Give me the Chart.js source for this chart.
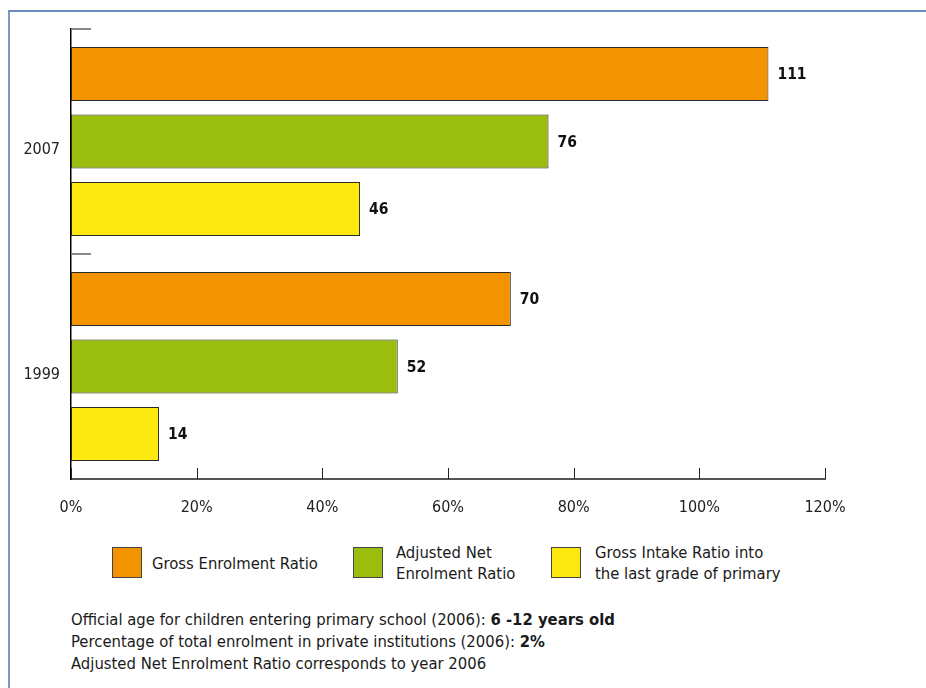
<!DOCTYPE html>
<html>
<head>
<meta charset="utf-8">
<script src="https://cdn.jsdelivr.net/npm/chart.js@4.4.0/dist/chart.umd.min.js"></script>
<style>
  body { margin: 0; background: #fff; width: 926px; height: 688px; overflow: hidden; position: relative;
         font-family: "DejaVu Sans Condensed", "Liberation Sans Narrow", sans-serif; color: #1a1a1a; }
  #frame { position: absolute; left: 8px; top: 10px; width: 940px; height: 700px;
           border-left: 2px solid #7b98c4; border-top: 2px solid #6a8bbd; }
  #wrap { position: absolute; left: 0; top: 0; }
  .box { position: absolute; width: 30px; height: 31px; border: 1px solid #444; box-sizing: border-box; }
  .lg { position: absolute; font-size: 16.5px; line-height: 21px; }
  #notes { position: absolute; left: 71px; top: 609px; font-size: 16.5px; line-height: 22px; }
  #notes b { font-weight: bold; }
</style>
</head>
<body>
<div id="frame"></div>
<div id="wrap"><canvas id="grafico" width="926" height="540"></canvas></div>

<div class="box" style="left:112px; top:547px; background:#f39300;"></div>
<div class="lg" style="left:152px; top:553px;">Gross Enrolment Ratio</div>
<div class="box" style="left:353px; top:547px; background:#9bbd0e;"></div>
<div class="lg" style="left:396px; top:542px;">Adjusted Net<br>Enrolment Ratio</div>
<div class="box" style="left:551px; top:547px; background:#fde910;"></div>
<div class="lg" style="left:595px; top:542px;">Gross Intake Ratio into<br>the last grade of primary</div>

<div id="notes">
  Official age for children entering primary school (2006): <b>6 -12 years old</b><br>
  Percentage of total enrolment in private institutions (2006): <b>2%</b><br>
  Adjusted Net Enrolment Ratio corresponds to year 2006
</div>

<script>
const anos = ["2007", "1999"];
const brutaMatricula = [111, 70];
const liquidaAjustada = [76, 52];
const ingressoUltimo = [46, 14];
const xTicks = [0, 20, 40, 60, 80, 100, 120];

const cores = ["#f39300", "#9bbd0e", "#fde910"];
const nomes = ["Gross Enrolment Ratio", "Adjusted Net Enrolment Ratio", "Gross Intake Ratio into the last grade of primary"];
const fonte = "'DejaVu Sans Condensed', 'Liberation Sans Narrow', sans-serif";

// ticks internos, separadores e valores
const decor = {
  id: "decor",
  afterDatasetsDraw(chart) {
    const { ctx, chartArea } = chart;
    const x = chart.scales.x;
    const y = chart.scales.y;
    ctx.save();

    ctx.strokeStyle = "#222";
    ctx.lineWidth = 1;
    xTicks.forEach(v => {
      const px = Math.round(x.getPixelForValue(v)) + 0.5;
      ctx.beginPath();
      ctx.moveTo(px, chartArea.bottom);
      ctx.lineTo(px, chartArea.bottom - 11);
      ctx.stroke();
    });

    const half = Math.abs(y.getPixelForValue(1) - y.getPixelForValue(0)) / 2;
    ctx.strokeStyle = "#888";
    ctx.lineWidth = 2;
    anos.forEach((a, i) => {
      const py = Math.round(y.getPixelForValue(i) - half);
      ctx.beginPath();
      ctx.moveTo(chartArea.left, py);
      ctx.lineTo(chartArea.left + 20, py);
      ctx.stroke();
    });

    ctx.fillStyle = "#111";
    ctx.font = "bold 15.5px " + fonte;
    ctx.textBaseline = "middle";
    chart.data.datasets.forEach((ds, i) => {
      chart.getDatasetMeta(i).data.forEach((bar, j) => {
        ctx.fillText(ds.data[j], bar.x + 9, bar.y + 1);
      });
    });
    ctx.restore();
  }
};

new Chart(document.getElementById("grafico"), {
  type: "bar",
  data: {
    labels: anos,
    datasets: [brutaMatricula, liquidaAjustada, ingressoUltimo].map((d, i) => ({
      label: nomes[i],
      data: d,
      backgroundColor: cores[i],
      borderColor: "#2a2a2a",
      borderWidth: 1,
      borderSkipped: false,
      categoryPercentage: 0.9,
      barPercentage: 0.8
    }))
  },
  options: {
    indexAxis: "y",
    responsive: false,
    animation: false,
    layout: { padding: { top: 29, right: 101, left: 0, bottom: 0 } },
    plugins: { legend: { display: false }, tooltip: { enabled: false } },
    scales: {
      x: {
        min: 0, max: 120,
        afterFit: s => { s.height = 61; },
        afterBuildTicks: s => { s.ticks = xTicks.map(v => ({ value: v })); },
        grid: { display: false, drawTicks: false },
        border: { display: true, color: "#555", width: 2 },
        ticks: {
          padding: 19,
          color: "#222",
          font: { family: fonte, size: 16 },
          callback: v => v + "%"
        }
      },
      y: {
        afterFit: s => { s.width = 71; },
        grid: { display: false, drawTicks: false },
        border: { display: true, color: "#000", width: 1.5 },
        ticks: {
          padding: 11,
          labelOffset: 8,
          color: "#222",
          font: { family: fonte, size: 16 }
        }
      }
    }
  },
  plugins: [decor]
});
</script>
</body>
</html>
